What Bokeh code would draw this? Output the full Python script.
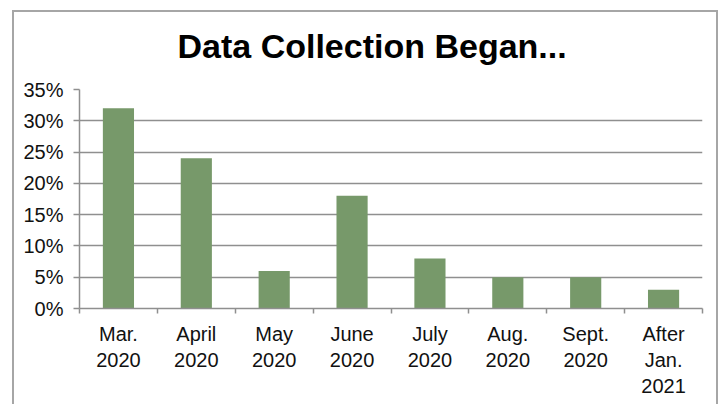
from bokeh.plotting import figure
from bokeh.models import Range1d, FixedTicker, PrintfTickFormatter, ColumnDataSource
from bokeh.embed import file_html
from bokeh.resources import INLINE

# Data
title_text = "Data Collection Began..."
categories = ["Mar.\n2020", "April\n2020", "May\n2020", "June\n2020", "July\n2020",
              "Aug.\n2020", "Sept.\n2020", "After\nJan.\n2021"]
values = [32, 24, 6, 18, 8, 5, 5, 3]
y_ticks = [0, 5, 10, 15, 20, 25, 30, 35]

n = len(categories)
centers = [i + 0.5 for i in range(n)]
bounds = [float(i) for i in range(n + 1)]

src = ColumnDataSource(dict(x=centers, top=values, cat=categories))

p = figure(width=724, height=404, output_backend="svg", toolbar_location=None,
           x_range=Range1d(0, n), y_range=Range1d(0, 35),
           min_border_left=79, min_border_right=22, min_border_top=89, min_border_bottom=96)
# outer chart frame (top, left, right edges) drawn with inset shadows behind a transparent canvas
p.styles = {
    "background-color": "white",
    "box-shadow": ("inset 12px 10px 0 0 white, inset -6px 0 0 0 white, "
                   "inset 14px 12px 0 0 #a6a6a6, inset -8px 0 0 0 #a6a6a6"),
}
p.border_fill_color = None
p.background_fill_color = "white"

p.title.text = title_text
p.title.align = "left"
p.title.offset = 98
p.title.vertical_align = "top"
p.title.standoff = 46
p.title.text_font = "Liberation Sans"
p.title.text_font_size = "34px"
p.title.text_font_style = "bold"
p.title.text_color = "#000000"

p.vbar(x="x", top="top", width=0.4, source=src, fill_color="#77996a", line_color=None)

p.outline_line_color = None

# grid
p.xgrid.grid_line_color = None
p.ygrid.grid_line_color = "#8f8f8f"
p.ygrid.grid_line_width = 1.5
p.ygrid.ticker = FixedTicker(ticks=y_ticks)

# x axis
xa = p.xaxis[0]
xa.ticker = FixedTicker(ticks=centers, minor_ticks=bounds)
xa.major_label_overrides = {c: lab for c, lab in zip(centers, categories)}
xa.major_tick_out = 0
xa.major_tick_in = 0
xa.minor_tick_out = 5
xa.minor_tick_in = 0
xa.minor_tick_line_color = "#8f8f8f"
xa.minor_tick_line_width = 1.5
xa.axis_line_color = "#8f8f8f"
xa.axis_line_width = 1.5
xa.major_label_text_font = "Liberation Sans"
xa.major_label_text_font_size = "20px"
xa.major_label_text_color = "#111111"
xa.major_label_standoff = 9

# y axis
ya = p.yaxis[0]
ya.ticker = FixedTicker(ticks=y_ticks)
ya.formatter = PrintfTickFormatter(format="%d%%")
ya.major_tick_out = 6
ya.major_tick_in = 0
ya.minor_tick_line_color = None
ya.major_tick_line_color = "#8f8f8f"
ya.major_tick_line_width = 1.5
ya.axis_line_color = "#8f8f8f"
ya.axis_line_width = 1.5
ya.major_label_text_font = "Liberation Sans"
ya.major_label_text_font_size = "20px"
ya.major_label_text_color = "#111111"
ya.major_label_standoff = 10

open("out.html", "w").write(file_html(p, INLINE))
